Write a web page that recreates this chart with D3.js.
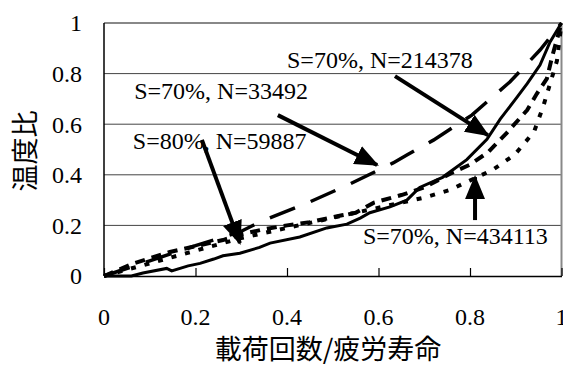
<!DOCTYPE html>
<html>
<head>
<meta charset="utf-8">
<script src="https://cdn.jsdelivr.net/npm/d3@7"></script>
<style>
  body { margin: 0; background: #fff; }
  .tick-label { font-family: "Liberation Serif", "Times New Roman", serif; font-size: 24px; fill: #000; }
  .note { font-family: "Liberation Serif", "Times New Roman", serif; font-size: 24px; fill: #000; }
  .title { font-family: "Noto Sans CJK JP", sans-serif; font-size: 27px; fill: #000; }
</style>
</head>
<body>
<div id="chart"></div>
<script>
// axis ticks
var xTicks = [0, 0.2, 0.4, 0.6, 0.8, 1];
var yTicks = [0, 0.2, 0.4, 0.6, 0.8, 1];
var xTickLabels = ['0', '0.2', '0.4', '0.6', '0.8', '1'];
var yTickLabels = ['0', '0.2', '0.4', '0.6', '0.8', '1'];

// S=70%, N=33492 (long dash)
var dash33492 = [[0, 0], [0.1, 0.06], [0.2, 0.12], [0.297, 0.174], [0.34, 0.213], [0.44, 0.285],
  [0.538, 0.364], [0.632, 0.447], [0.662, 0.478], [0.72, 0.537], [0.804, 0.636],
  [0.887, 0.767], [0.953, 0.893], [1, 1]];

// S=70%, N=214378 (solid)
var solid214378 = [[0, 0], [0.06, 0.0], [0.085, 0.012], [0.137, 0.03], [0.148, 0.02], [0.184, 0.04],
  [0.21, 0.05], [0.24, 0.067], [0.26, 0.08], [0.297, 0.09], [0.34, 0.113], [0.363, 0.13],
  [0.428, 0.154], [0.487, 0.19], [0.531, 0.205], [0.56, 0.229], [0.581, 0.25], [0.625, 0.273],
  [0.662, 0.30], [0.69, 0.35], [0.74, 0.39], [0.793, 0.46], [0.837, 0.54], [0.866, 0.62],
  [0.90, 0.70], [0.925, 0.76], [0.953, 0.834], [0.975, 0.925], [1, 1]];

// S=80%, N=59887 (thick dots)
var dot59887 = [[0, 0], [0.065, 0.05], [0.1, 0.07], [0.144, 0.095], [0.26, 0.142], [0.30, 0.165],
  [0.35, 0.185], [0.40, 0.20], [0.45, 0.213], [0.52, 0.24], [0.55, 0.25], [0.59, 0.29],
  [0.65, 0.32], [0.70, 0.35], [0.763, 0.41], [0.80, 0.44], [0.84, 0.49], [0.88, 0.565],
  [0.925, 0.656], [0.946, 0.72], [0.968, 0.78], [0.98, 0.87], [1, 1]];

// S=70%, N=434113 (small dots)
var dot434113 = [[0, 0], [0.1, 0.05], [0.2, 0.1], [0.3, 0.15], [0.4, 0.19], [0.5, 0.23],
  [0.6, 0.27], [0.70, 0.31], [0.756, 0.34], [0.85, 0.42], [0.898, 0.48], [0.94, 0.57],
  [0.96, 0.67], [0.975, 0.76], [0.99, 0.85], [1, 1]];

// annotation labels and arrows (data coordinates)
var noteTexts = ['S=70%, N=33492', 'S=80%, N=59887', 'S=70%, N=214378', 'S=70%, N=434113'];
var notePos = [[0.066, 0.70], [0.063, 0.502], [0.40, 0.822], [0.566, 0.126]];
var arrowFrom = [[0.38, 0.636], [0.214, 0.538], [0.636, 0.79], [0.811, 0.221]];
var arrowTo = [[0.597, 0.439], [0.297, 0.13], [0.839, 0.557], [0.811, 0.391]];

(function () {
  // dimensions
  var W = 563, H = 367;
  var m = { left: 104, right: 561.5, top: 23, bottom: 276 };

  var x = d3.scaleLinear().domain([0, 1]).range([m.left, m.right]);
  var y = d3.scaleLinear().domain([0, 1]).range([m.bottom, m.top]);

  var svg = d3.select('#chart').append('svg')
    .attr('width', W)
    .attr('height', H);

  // arrow head marker
  svg.append('defs').append('marker')
    .attr('id', 'head')
    .attr('markerUnits', 'userSpaceOnUse')
    .attr('viewBox', '0 0 24 20')
    .attr('refX', 22)
    .attr('refY', 10)
    .attr('markerWidth', 24)
    .attr('markerHeight', 20)
    .attr('orient', 'auto')
    .append('path')
    .attr('d', 'M0,0 L24,10 L0,20 Z')
    .attr('fill', '#000');

  // horizontal grid lines
  svg.append('g')
    .selectAll('line')
    .data(yTicks.filter(function (d) { return d > 0; }))
    .enter().append('line')
    .attr('x1', m.left).attr('x2', m.right)
    .attr('y1', function (d) { return y(d); })
    .attr('y2', function (d) { return y(d); })
    .attr('stroke', function (d) { return d === 1 ? '#888' : '#444'; })
    .attr('stroke-width', function (d) { return d === 1 ? 2 : 1; });

  // right border
  svg.append('line')
    .attr('x1', m.right).attr('x2', m.right)
    .attr('y1', m.top).attr('y2', m.bottom)
    .attr('stroke', '#888').attr('stroke-width', 2);

  // x axis (ticks pointing inward)
  var xAxis = d3.axisBottom(x)
    .tickValues(xTicks)
    .tickSizeInner(-8)
    .tickSizeOuter(0)
    .tickFormat('');
  var xg = svg.append('g')
    .attr('transform', 'translate(0,' + m.bottom + ')')
    .call(xAxis);
  xg.select('.domain').attr('stroke', '#000').attr('stroke-width', 1.5);
  xg.selectAll('.tick line').attr('stroke', '#000').attr('stroke-width', 1.2);

  // y axis line
  svg.append('line')
    .attr('x1', m.left).attr('x2', m.left)
    .attr('y1', m.top).attr('y2', m.bottom)
    .attr('stroke', '#000').attr('stroke-width', 1.5);

  // tick labels
  svg.append('g').selectAll('text')
    .data(xTicks)
    .enter().append('text')
    .attr('class', 'tick-label')
    .attr('x', function (d) { return x(d); })
    .attr('y', 325)
    .attr('text-anchor', 'middle')
    .text(function (d, i) { return xTickLabels[i]; });

  svg.append('g').selectAll('text')
    .data(yTicks)
    .enter().append('text')
    .attr('class', 'tick-label')
    .attr('x', 82)
    .attr('y', function (d) { return y(d); })
    .attr('dy', '0.35em')
    .attr('text-anchor', 'end')
    .text(function (d, i) { return yTickLabels[i]; });

  // axis titles
  svg.append('text')
    .attr('class', 'title')
    .attr('x', 328)
    .attr('y', 359)
    .attr('text-anchor', 'middle')
    .text('載荷回数/疲労寿命');

  svg.append('text')
    .attr('class', 'title')
    .attr('transform', 'translate(35,151) rotate(-90)')
    .attr('text-anchor', 'middle')
    .text('温度比');

  // lines
  var line = d3.line()
    .x(function (d) { return x(d[0]); })
    .y(function (d) { return y(d[1]); });

  var plot = svg.append('g');

  plot.append('path').datum(dot434113)
    .attr('d', line).attr('fill', 'none')
    .attr('stroke', '#000').attr('stroke-width', 4)
    .attr('stroke-dasharray', '5,9');

  plot.append('path').datum(dot59887)
    .attr('d', line).attr('fill', 'none')
    .attr('stroke', '#000').attr('stroke-width', 4)
    .attr('stroke-dasharray', '10,7');

  plot.append('path').datum(dash33492)
    .attr('d', line).attr('fill', 'none')
    .attr('stroke', '#000').attr('stroke-width', 3.5)
    .attr('stroke-dasharray', '27,17');

  plot.append('path').datum(solid214378)
    .attr('d', line).attr('fill', 'none')
    .attr('stroke', '#000').attr('stroke-width', 3);

  // annotations
  svg.append('g').selectAll('text')
    .data(noteTexts)
    .enter().append('text')
    .attr('class', 'note')
    .attr('x', function (d, i) { return x(notePos[i][0]); })
    .attr('y', function (d, i) { return y(notePos[i][1]); })
    .text(function (d) { return d; });

  svg.append('g').selectAll('line')
    .data(arrowFrom)
    .enter().append('line')
    .attr('x1', function (d) { return x(d[0]); })
    .attr('y1', function (d) { return y(d[1]); })
    .attr('x2', function (d, i) { return x(arrowTo[i][0]); })
    .attr('y2', function (d, i) { return y(arrowTo[i][1]); })
    .attr('stroke', '#000')
    .attr('stroke-width', 4)
    .attr('marker-end', 'url(#head)');
})();
</script>
</body>
</html>
